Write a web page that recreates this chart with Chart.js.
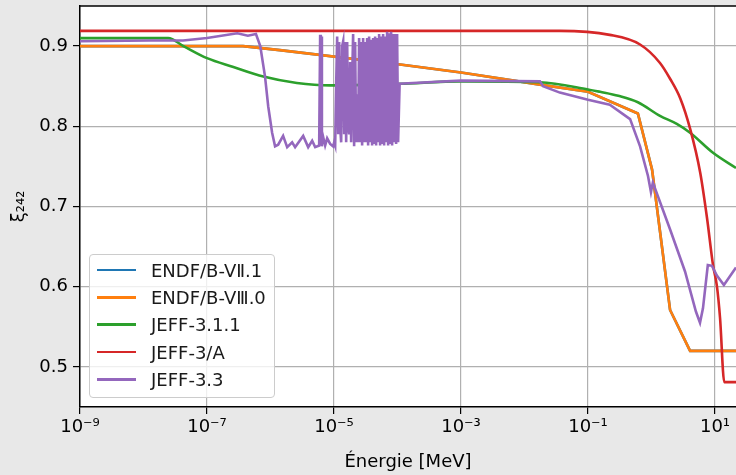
<!DOCTYPE html>
<html>
<head>
<meta charset="utf-8">
<script src="https://cdn.jsdelivr.net/npm/chart.js@4/dist/chart.umd.min.js"></script>
<style>
  html, body { margin: 0; padding: 0; background: #e8e8e8; }
  #wrap { position: relative; width: 736px; height: 475px; }
  #legend {
    position: absolute;
    background: rgba(255, 255, 255, 0.8);
    border: 1px solid #cccccc;
    border-radius: 4px;
    padding: 2px 8px 4px 7px;
    font-family: 'DejaVu Sans', sans-serif;
    font-size: 18px;
    color: #1a1a1a;
  }
  #legend .row { display: flex; align-items: center; height: 27.3px; white-space: nowrap; }
  #legend .swatch { display: inline-block; width: 39px; height: 2.6px; margin-right: 15px; }
</style>
</head>
<body>
<div id="wrap">
  <canvas id="c" width="736" height="475"></canvas>
  <div id="legend"></div>
</div>
<script>
// xi_242 vs neutron energy (MeV)

const xTickValues = [1e-9, 1e-7, 1e-5, 1e-3, 1e-1, 1e1];
const xTickLabels = ['10⁻⁹', '10⁻⁷', '10⁻⁵', '10⁻³', '10⁻¹', '10¹'];
const yTickValues = [0.5, 0.6, 0.7, 0.8, 0.9];

// ENDF/B-VII.1 (hidden under ENDF/B-VIII.0)
const endf71Energy = [1e-9, 3.7e-7, 1.4e-6, 1.1e-4, 1e-3, 0.0175, 0.1, 0.61, 1.02, 1.96, 4.05, 21.4];
const endf71Xi     = [0.900, 0.900, 0.895, 0.877, 0.867, 0.852, 0.843, 0.816, 0.746, 0.571, 0.520, 0.520];

// ENDF/B-VIII.0
const endf80Energy = [1e-9, 3.7e-7, 1.4e-6, 1.1e-4, 1e-3, 0.0175, 0.1, 0.61, 1.02, 1.96, 4.05, 21.4];
const endf80Xi     = [0.900, 0.900, 0.895, 0.877, 0.867, 0.852, 0.843, 0.816, 0.746, 0.571, 0.520, 0.520];

// JEFF-3.1.1
const jeff311Energy = [1e-9, 2.45e-8, 4.25e-8, 1e-7, 2.6e-7, 7.7e-7, 2.6e-6, 8.7e-6, 1.1e-4, 1e-3, 0.0175,
                       0.1, 0.155, 0.3, 0.61, 1.36, 2.5, 4.05, 9.3, 21.4];
const jeff311Xi     = [0.910, 0.910, 0.900, 0.885, 0.874, 0.862, 0.854, 0.851, 0.853, 0.856, 0.855,
                       0.846, 0.843, 0.838, 0.830, 0.813, 0.803, 0.792, 0.767, 0.748];

// JEFF-3/A
const jeff3AEnergy = [1e-9, 0.036, 0.22, 0.66, 1.36, 1.97, 2.83, 4.05, 5.85, 7.5, 9.3, 10.7, 12.0, 14.0, 21.4];
const jeff3AXi     = [0.919, 0.919, 0.914, 0.902, 0.879, 0.859, 0.835, 0.797, 0.742, 0.685, 0.627, 0.601, 0.561, 0.481, 0.481];

// JEFF-3.3 (with resolved resonances)
const jeff33Energy = [
  1e-9, 1.27e-8, 4.2e-8, 1e-7, 3.0e-7, 4.4e-7, 5.9e-7, 6.9e-7, 8.2e-7, 9.2e-7, 1.06e-6, 1.18e-6, 1.32e-6,
  1.58e-6, 1.83e-6, 2.19e-6, 2.44e-6, 3.27e-6, 3.92e-6, 4.53e-6, 5.05e-6, 5.84e-6, 6.05e-6, 6.2e-6, 6.32e-6,
  6.45e-6, 6.6e-6, 7.25e-6, 7.8e-6, 8.7e-6,
  9.70e-6, 1.006e-5, 1.043e-5, 1.081e-5, 1.121e-5, 1.163e-5, 1.206e-5, 1.250e-5, 1.296e-5, 1.344e-5,
  1.394e-5, 1.445e-5, 1.499e-5, 1.554e-5, 1.611e-5, 1.671e-5, 1.733e-5, 1.797e-5, 1.863e-5, 1.932e-5,
  2.000e-5, 2.074e-5, 2.150e-5, 2.230e-5, 2.312e-5, 2.398e-5, 2.486e-5, 2.578e-5, 2.673e-5, 2.772e-5,
  2.874e-5, 2.980e-5, 3.090e-5, 3.204e-5, 3.322e-5, 3.445e-5, 3.572e-5, 3.704e-5, 3.841e-5, 3.983e-5,
  4.130e-5, 4.282e-5, 4.440e-5, 4.604e-5, 4.774e-5, 4.950e-5, 5.133e-5, 5.322e-5, 5.519e-5, 5.722e-5,
  5.934e-5, 6.153e-5, 6.380e-5, 6.615e-5, 6.859e-5, 7.112e-5, 7.375e-5, 7.647e-5, 7.930e-5, 8.222e-5,
  8.526e-5, 8.840e-5, 9.167e-5, 9.505e-5, 9.856e-5, 1.022e-4, 1.08e-4,
  1e-3, 0.0175, 0.0196, 0.036, 0.1, 0.22, 0.46, 0.66, 0.88, 0.98, 1.05, 1.95, 3.37, 5.0, 5.8, 6.46, 7.7,
  8.95, 10.7, 13.8, 21.4
];
const jeff33Xi = [
  0.906, 0.907, 0.907, 0.910, 0.916, 0.913, 0.915, 0.900, 0.862, 0.825, 0.792, 0.775, 0.777,
  0.788, 0.774, 0.780, 0.774, 0.788, 0.774, 0.782, 0.774, 0.776, 0.914, 0.776, 0.912,
  0.775, 0.790, 0.776, 0.785, 0.778,
  0.775, 0.780, 0.776, 0.850, 0.912, 0.790, 0.905, 0.800, 0.780, 0.900,
  0.906, 0.790, 0.905, 0.780, 0.905, 0.800, 0.790, 0.880, 0.780, 0.860,
  0.915, 0.775, 0.905, 0.780, 0.840, 0.780, 0.910, 0.780, 0.905, 0.776,
  0.910, 0.780, 0.905, 0.780, 0.910, 0.776, 0.912, 0.780, 0.908, 0.776,
  0.910, 0.778, 0.912, 0.776, 0.910, 0.780, 0.915, 0.776, 0.912, 0.778,
  0.915, 0.776, 0.912, 0.780, 0.918, 0.776, 0.916, 0.778, 0.918, 0.776,
  0.915, 0.780, 0.915, 0.778, 0.915, 0.780, 0.853,
  0.857, 0.856, 0.850, 0.842, 0.833, 0.827, 0.809, 0.775, 0.738, 0.718, 0.730, 0.672, 0.619, 0.569, 0.555, 0.573, 0.627,
  0.626, 0.614, 0.602, 0.624
];

const FONT = 'DejaVu Sans';

function pts(energy, xi) {
  return energy.map((e, i) => ({ x: e, y: xi[i] }));
}

function series(label, color, energy, xi, order, smooth) {
  return {
    label,
    data: pts(energy, xi),
    borderColor: color,
    backgroundColor: color,
    borderWidth: 2.6,
    pointRadius: 0,
    cubicInterpolationMode: smooth ? 'monotone' : 'default',
    tension: 0,
    fill: false,
    order
  };
}

const frame = {
  id: 'frame',
  beforeDraw(chart) {
    const { ctx, chartArea: a } = chart;
    ctx.save();
    ctx.fillStyle = '#ffffff';
    ctx.fillRect(a.left, a.top, a.right - a.left, a.bottom - a.top);
    ctx.restore();
  },
  afterDatasetsDraw(chart) {
    const { ctx, chartArea: a } = chart;
    ctx.save();
    ctx.strokeStyle = '#000';
    ctx.lineWidth = 1.5;
    ctx.beginPath();
    ctx.moveTo(a.left, a.top);
    ctx.lineTo(a.right, a.top);
    ctx.stroke();
    ctx.restore();
  }
};

const chart = new Chart(document.getElementById('c'), {
  type: 'line',
  data: {
    datasets: [
      series('ENDF/B-VⅡ.1', '#1f77b4', endf71Energy, endf71Xi, 5, false),
      series('ENDF/B-VⅢ.0', '#ff7f0e', endf80Energy, endf80Xi, 4, false),
      series('JEFF-3.1.1', '#2ca02c', jeff311Energy, jeff311Xi, 3, true),
      series('JEFF-3/A', '#d62728', jeff3AEnergy, jeff3AXi, 2, true),
      series('JEFF-3.3', '#9467bd', jeff33Energy, jeff33Xi, 1, false)
    ]
  },
  options: {
    responsive: false,
    animation: false,
    devicePixelRatio: 1,
    layout: { padding: { top: 6, right: 0, left: 0, bottom: 0 } },
    plugins: {
      legend: { display: false },
      tooltip: { enabled: false }
    },
    scales: {
      x: {
        type: 'logarithmic',
        min: 1e-9,
        max: 21.4,
        afterBuildTicks: s => { s.ticks = xTickValues.map(v => ({ value: v })); },
        afterFit: s => { s.height = 68; },
        ticks: {
          autoSkip: false,
          maxRotation: 0,
          padding: 3,
          color: '#000',
          font: { family: FONT, size: 18 },
          callback: (v, i) => xTickLabels[i]
        },
        grid: { color: '#b0b0b0', lineWidth: 1.2, tickColor: '#000', tickLength: 7 },
        border: { color: '#000', width: 1.5 },
        title: {
          display: true,
          text: 'Énergie [MeV]',
          color: '#000',
          font: { family: FONT, size: 18 },
          padding: { top: 0, bottom: 2 }
        }
      },
      y: {
        min: 0.45,
        max: 0.95,
        afterBuildTicks: s => { s.ticks = yTickValues.map(v => ({ value: v })); },
        afterFit: s => { s.width = 80; s.paddingTop = 0; s.paddingBottom = 0; },
        ticks: {
          padding: 5,
          color: '#000',
          font: { family: FONT, size: 18 },
          callback: v => v.toFixed(1)
        },
        grid: { color: '#b0b0b0', lineWidth: 1.2, tickColor: '#000', tickLength: 7 },
        border: { color: '#000', width: 1.5 },
        title: {
          display: true,
          text: 'ξ₂₄₂',
          color: '#000',
          font: { family: FONT, size: 18 },
          padding: { top: 9, bottom: 0 }
        }
      }
    }
  },
  plugins: [frame]
});

// legend drawn as html, inside the plot area at bottom left
const legend = document.getElementById('legend');
chart.data.datasets.forEach(ds => {
  const row = document.createElement('div');
  row.className = 'row';
  const sw = document.createElement('span');
  sw.className = 'swatch';
  sw.style.background = ds.borderColor;
  const txt = document.createElement('span');
  txt.textContent = ds.label;
  row.appendChild(sw);
  row.appendChild(txt);
  legend.appendChild(row);
});
const area = chart.chartArea;
legend.style.left = (area.left + 9) + 'px';
legend.style.bottom = (475 - area.bottom + 9) + 'px';
</script>
</body>
</html>
